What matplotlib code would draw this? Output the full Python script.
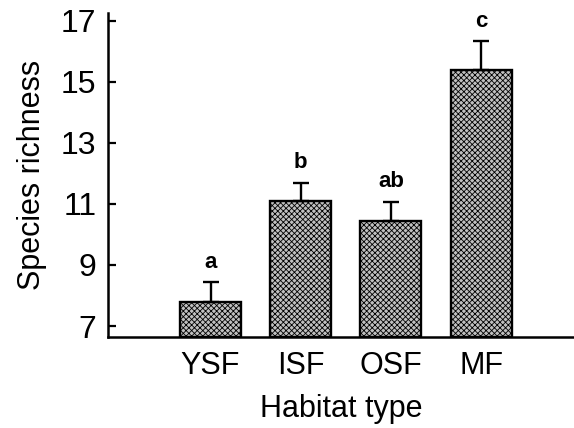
import numpy as np
import matplotlib
matplotlib.use("Agg")
import matplotlib.pyplot as plt

habitats = ["YSF", "ISF", "OSF", "MF"]
richness = [7.80, 11.08, 10.44, 15.37]
errors = [0.63, 0.60, 0.62, 0.95]
letters = ["a", "b", "ab", "c"]

plt.rcParams["font.family"] = ["Liberation Sans", "DejaVu Sans"]
plt.rcParams["hatch.color"] = "#666666"
plt.rcParams["hatch.linewidth"] = 0.6

fig = plt.figure(figsize=(5.74, 4.28), dpi=100)
ax = fig.add_axes([0.1876, 0.2133, 0.8124, 0.757])

base = 6.65
x = np.arange(len(habitats))
ax.bar(x, [r - base for r in richness], bottom=base, width=0.676,
       color="#c0c0c0", edgecolor="black", linewidth=1.7, hatch="xxxxxx")
ax.errorbar(x, richness, yerr=[np.zeros(len(errors)), errors], fmt="none",
            ecolor="black", elinewidth=1.7, capsize=6, capthick=1.7)

for xi, r, e, lab in zip(x, richness, errors, letters):
    ax.annotate(lab, (xi, r + e), xytext=(0, 7), textcoords="offset points",
                ha="center", va="bottom", fontsize=16, fontweight="bold")

ax.set_xlim(-1.14, 4.03)
ax.set_ylim(base, 17.26)
ax.set_yticks([7, 9, 11, 13, 15, 17])
ax.set_xticks(x)
ax.set_xticklabels(habitats)
ax.tick_params(axis="y", direction="in", length=6, width=1.6, labelsize=23, pad=8)
ax.tick_params(axis="x", length=0, labelsize=22, pad=10)
ax.spines["top"].set_visible(False)
ax.spines["right"].set_visible(False)
ax.spines["left"].set_linewidth(1.8)
ax.spines["bottom"].set_linewidth(1.8)

ax.set_xlabel("Habitat type", fontsize=22, labelpad=10)
ax.set_ylabel("Species richness", fontsize=22, labelpad=10)

fig.savefig("out.png", dpi=100)
